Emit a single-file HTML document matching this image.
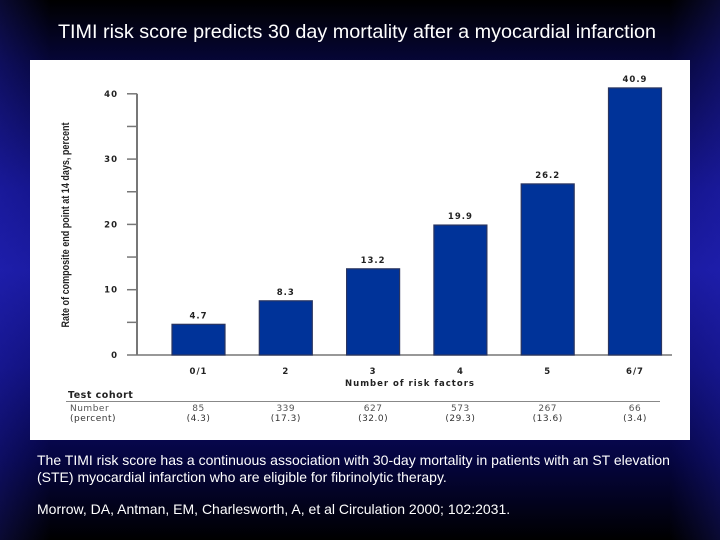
<!DOCTYPE html>
<html><head><meta charset="utf-8"><style>
html,body{margin:0;padding:0}
body{width:720px;height:540px;overflow:hidden;position:relative;font-family:"Liberation Sans",Arial,sans-serif;
background:linear-gradient(to bottom,#000 0%,#06063a 12%,#14148a 35%,#1a1aa0 50%,#10107a 68%,#050540 85%,#000 100%);}
.vig{position:absolute;inset:0;background:linear-gradient(to right,rgba(40,40,200,0.25) 0%,rgba(0,0,0,0) 7%,rgba(0,0,0,0) 93%,rgba(40,40,200,0.25) 100%);}
.t{position:absolute;color:#fff;white-space:nowrap}
</style></head><body>
<div class="vig"></div>
<div class="t" style="left:0;width:714px;text-align:center;top:21px;font-size:19.8px;">TIMI risk score predicts 30 day mortality after a myocardial infarction</div>
<svg id="chart" style="position:absolute;left:30px;top:60px" width="660" height="380" viewBox="30 60 660 380">
<rect x="30" y="60" width="660" height="380" fill="#fff"/>
</svg>
<div class="t" style="left:37px;top:452px;font-size:14px;">The TIMI risk score has a continuous association with 30-day mortality in patients with an ST elevation</div>
<div class="t" style="left:37px;top:469px;font-size:14px;">(STE) myocardial infarction who are eligible for fibrinolytic therapy.</div>
<div class="t" style="left:37px;top:501px;font-size:14px;">Morrow, DA, Antman, EM, Charlesworth, A, et al Circulation 2000; 102:2031.</div>
<script>
const categories=["0/1","2","3","4","5","6/7"];
const rates=[4.7,8.3,13.2,19.9,26.2,40.9];
const counts=["85","339","627","573","267","66"];
const percents=["(4.3)","(17.3)","(32.0)","(29.3)","(13.6)","(3.4)"];
const yTicks=[0,10,20,30,40];
const NS="http://www.w3.org/2000/svg";
const svg=document.getElementById('chart');
const y0=355,pxPer=65.3/10,x0=198.5,step=87.3,bw=53;
const yS=v=>y0-v*pxPer;
const xS=i=>x0+i*step;
function mk(tag,attrs,text){const e=document.createElementNS(NS,tag);for(const k in attrs)e.setAttribute(k,attrs[k]);if(text!==undefined)e.textContent=text;svg.appendChild(e);return e;}
const lf='font-family:"DejaVu Sans","Liberation Sans",sans-serif;font-weight:bold;font-size:8.5px;letter-spacing:1px';
let ax=mk('line',{x1:137,y1:yS(40),x2:137,y2:y0,stroke:'#777','stroke-width':2});


let bl=mk('line',{x1:137,y1:y0,x2:672,y2:y0,stroke:'#777','stroke-width':1.5});


for(let v=0;v<=40;v+=5){
  const tk=mk('line',{x1:127,y1:yS(v),x2:137,y2:yS(v),stroke:'#777','stroke-width':1.5});
  
  
}
yTicks.forEach(v=>{
  const t=mk('text',{x:118,y:yS(v)+3,'text-anchor':'end',style:lf,fill:'#222'},String(v));
  
  
});
const yt=mk('text',{x:0,y:0,transform:'translate(69,225) rotate(-90)','text-anchor':'middle',style:'font-family:"Liberation Sans",sans-serif;font-size:11px;font-weight:bold',fill:'#222',textLength:205,lengthAdjust:'spacingAndGlyphs'},'Rate of composite end point at 14 days, percent');


categories.forEach((c,i)=>{
  const cx=xS(i);
  const b=mk('rect',{x:cx-bw/2,y:yS(rates[i]),width:bw,height:y0-yS(rates[i]),fill:'#003399',stroke:'#2a3560','stroke-width':1.2});
  
  
  const vl=mk('text',{x:cx,y:yS(rates[i])-6,'text-anchor':'middle',style:lf,fill:'#222'},rates[i].toFixed(1));
  
  
  const cl=mk('text',{x:cx,y:374,'text-anchor':'middle',style:lf,fill:'#222'},c);
  
  
  const n=mk('text',{x:cx,y:411,'text-anchor':'middle',style:'font-family:"DejaVu Sans",sans-serif;font-size:9px;letter-spacing:0.5px',fill:'#555'},counts[i]);
  
  
  const p=mk('text',{x:cx,y:421,'text-anchor':'middle',style:'font-family:"DejaVu Sans",sans-serif;font-size:9px;letter-spacing:0.5px',fill:'#333'},percents[i]);
  
  
});
const xt=mk('text',{x:410,y:386,'text-anchor':'middle',style:lf,fill:'#222'},'Number of risk factors');


const tc=mk('text',{x:68,y:398,style:'font-family:"DejaVu Sans",sans-serif;font-weight:bold;font-size:9.5px;letter-spacing:0.5px',fill:'#222'},'Test cohort');


const sl=mk('line',{x1:66,y1:401.5,x2:660,y2:401.5,stroke:'#888','stroke-width':1});


const nl=mk('text',{x:70,y:411,style:'font-family:"DejaVu Sans",sans-serif;font-size:9px;letter-spacing:0.5px',fill:'#555'},'Number');


const pl=mk('text',{x:70,y:421,style:'font-family:"DejaVu Sans",sans-serif;font-size:9px;letter-spacing:0.5px',fill:'#333'},'(percent)');


</script>
</body></html>
